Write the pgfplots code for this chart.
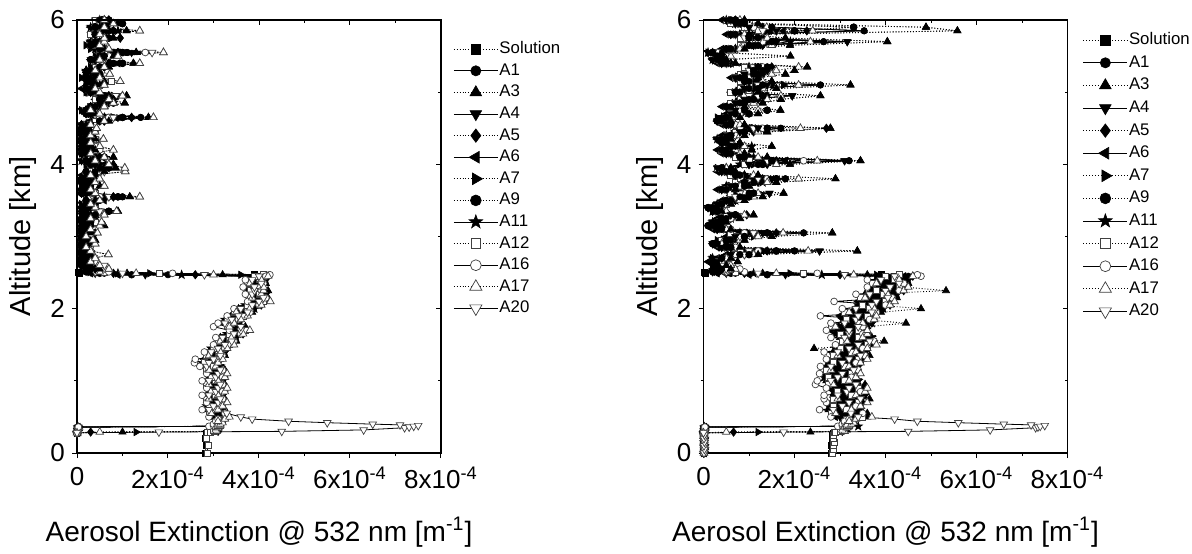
\documentclass[border=0pt]{standalone}
\usepackage{fontspec}
\setmainfont{Liberation Sans}
\usepackage{pgfplots}
\usepackage{pgfplotstable}
\pgfplotsset{compat=1.18}

% filled five-point star for A11
\pgfdeclareplotmark{fstar}{%
  \pgfpathmoveto{\pgfpointpolar{90}{1.25\pgfplotmarksize}}%
  \pgfpathlineto{\pgfpointpolar{126}{0.5\pgfplotmarksize}}%
  \pgfpathlineto{\pgfpointpolar{162}{1.25\pgfplotmarksize}}%
  \pgfpathlineto{\pgfpointpolar{198}{0.5\pgfplotmarksize}}%
  \pgfpathlineto{\pgfpointpolar{234}{1.25\pgfplotmarksize}}%
  \pgfpathlineto{\pgfpointpolar{270}{0.5\pgfplotmarksize}}%
  \pgfpathlineto{\pgfpointpolar{306}{1.25\pgfplotmarksize}}%
  \pgfpathlineto{\pgfpointpolar{342}{0.5\pgfplotmarksize}}%
  \pgfpathlineto{\pgfpointpolar{18}{1.25\pgfplotmarksize}}%
  \pgfpathlineto{\pgfpointpolar{54}{0.5\pgfplotmarksize}}%
  \pgfpathclose
  \pgfusepathqfillstroke
}

% extinction in units of 1e-4 m^-1, altitude in km
\pgfplotstableread{
y    S    A1   A3   A4   A5   A6   A7   A9   A11  A12  A16  A17  A20
0.00 2.82 nan  nan  nan  nan  nan  nan  nan  nan  2.86 nan  nan  nan
0.10 2.84 nan  nan  nan  nan  nan  nan  nan  nan  2.88 nan  nan  nan
0.20 2.83 nan  nan  nan  nan  nan  nan  nan  nan  2.85 nan  nan  nan
0.28 2.85 0    0    0    0    0    0    0    0    2.87 0    0    0
0.29 2.90 0.02 1.00 0.03 0.30 0.02 1.30 0.03 0.02 2.92 0.03 0.50 1.80
0.30 3.00 0.03 3.05 0.02 3.10 0.03 3.00 0.02 0.03 3.02 0.02 3.07 4.50
0.32 3.05 0.02 3.10 0.03 3.05 0.02 3.10 0.03 0.02 3.00 0.03 3.05 6.30
0.35 3.05 0.03 3.05 0.02 3.10 0.03 3.05 0.02 0.03 3.05 0.02 3.10 7.20
0.36 3.10 0.02 3.10 0.03 3.05 0.02 3.10 0.03 0.02 3.10 0.03 3.05 7.30
0.37 3.10 2.95 3.05 3.00 3.10 2.90 3.05 2.95 3.00 3.05 2.90 3.10 7.40
0.38 3.10 3.05 3.10 3.05 3.15 3.00 3.10 3.05 3.10 3.10 3.00 3.15 7.50
0.39 3.15 3.10 3.05 3.10 3.10 3.05 3.15 3.10 3.05 3.15 3.05 3.10 7.10
0.40 3.10 3.05 3.10 3.15 3.05 3.10 3.10 3.15 3.10 3.10 3.00 3.15 6.50
0.42 3.10 3.10 3.15 3.10 3.10 3.05 3.15 3.10 3.15 3.05 3.10 3.20 5.50
0.44 3.15 3.05 3.10 3.15 3.20 3.10 3.10 3.20 3.10 3.15 3.05 3.10 4.65
0.47 3.10 3.15 3.20 3.10 3.15 3.15 3.05 3.10 3.20 3.10 3.10 3.25 3.85
0.50 3.10 3.20 3.30 3.00 3.15 2.95 3.20 3.10 3.05 3.25 2.90 3.35 3.60
0.55 3.05 2.95 3.30 3.10 2.95 3.15 3.00 3.20 3.15 2.90 3.25 2.95 3.29
0.60 3.00 3.05 2.85 3.20 3.10 2.95 3.15 2.90 3.20 3.05 2.75 3.10 2.90
0.65 3.00 3.15 3.05 2.95 3.20 3.10 2.90 3.05 2.85 2.90 3.15 3.20 3.00
0.70 3.05 3.15 3.25 2.95 3.10 2.90 3.15 3.05 3.00 3.20 2.85 3.30 3.10
0.75 3.00 2.90 3.25 3.05 2.90 3.10 2.95 3.15 3.10 2.85 3.20 2.90 3.15
0.80 3.00 3.05 2.85 3.20 3.10 2.95 3.15 2.90 3.20 3.05 2.75 3.10 2.90
0.85 3.05 3.20 3.10 3.00 3.25 3.15 2.95 3.10 2.90 2.95 3.20 3.25 3.05
0.90 3.05 3.15 3.25 2.95 3.10 2.90 3.15 3.05 3.00 3.20 2.85 3.30 3.10
0.95 3.00 2.90 3.25 3.05 2.90 3.10 2.95 3.15 3.10 2.85 3.20 2.90 3.15
1.00 3.00 3.05 2.85 3.20 3.10 2.95 3.15 2.90 3.20 3.05 2.75 3.10 2.90
1.05 3.05 3.20 3.10 3.00 3.25 3.15 2.95 3.10 2.90 2.95 3.20 3.25 3.05
1.10 3.05 3.15 3.25 2.95 3.10 2.90 3.15 3.05 3.00 3.20 2.85 3.30 3.10
1.15 3.00 2.90 3.25 3.05 2.90 3.10 2.95 3.15 3.10 2.85 3.20 2.90 3.15
1.20 2.95 3.00 2.80 3.15 3.05 2.90 3.10 2.85 3.15 3.00 2.70 3.05 2.85
1.25 2.90 3.05 2.95 2.85 3.10 3.00 2.80 2.95 2.75 2.80 2.58 3.10 2.90
1.30 2.95 3.05 3.15 2.85 3.00 2.80 3.05 2.95 2.90 3.10 2.60 3.20 3.00
1.35 3.00 2.90 3.25 3.05 2.90 3.10 2.95 3.15 3.10 2.85 3.20 2.90 3.15
1.40 3.05 3.10 2.90 3.25 3.15 3.00 3.20 2.95 3.25 3.10 2.80 3.15 2.95
1.45 3.10 3.25 3.15 3.05 3.30 3.20 3.00 3.15 2.95 3.00 3.25 3.30 3.10
1.50 3.20 3.30 3.40 3.10 3.25 3.05 3.30 3.20 3.15 3.35 3.00 3.45 3.25
1.55 3.25 3.15 3.50 3.30 3.15 3.35 3.20 3.40 3.35 3.10 3.45 3.15 3.40
1.60 3.30 3.35 3.15 3.50 3.40 3.25 3.45 3.20 3.50 3.35 3.05 3.40 3.20
1.65 3.45 3.60 3.50 3.40 3.65 3.55 3.35 3.50 3.30 3.35 3.60 3.65 3.45
1.70 3.55 3.65 3.75 3.45 3.60 3.40 3.65 3.55 3.50 3.70 3.35 3.80 3.60
1.75 3.45 3.35 3.70 3.50 3.35 3.55 3.40 3.60 3.55 3.30 3.00 3.35 3.60
1.80 3.35 3.40 3.20 3.55 3.45 3.30 3.50 3.25 3.55 3.40 3.10 3.45 3.25
1.85 3.40 3.55 3.45 3.35 3.60 3.50 3.30 3.45 3.25 3.30 3.55 3.60 3.40
1.90 3.50 3.60 3.70 3.40 3.55 3.35 3.60 3.50 3.45 3.65 3.30 3.75 3.55
1.95 3.60 3.50 3.85 3.65 3.50 3.70 3.55 3.75 3.70 3.45 3.80 3.50 3.75
2.00 3.70 3.75 3.55 3.90 3.80 3.65 3.85 3.60 3.90 3.75 3.45 3.80 3.60
2.05 3.85 4.00 3.90 3.80 4.05 3.95 3.75 3.90 3.70 3.75 4.00 4.05 3.85
2.10 3.95 4.05 4.15 3.85 4.00 3.80 4.05 3.95 3.90 4.10 3.75 4.25 4.00
2.15 3.95 3.85 4.20 4.00 3.85 4.05 3.90 4.10 4.05 3.80 4.15 3.85 4.10
2.20 3.95 4.00 3.80 4.15 4.05 3.90 4.10 3.85 4.15 4.00 3.70 4.05 3.85
2.25 3.90 4.05 4.20 3.85 4.10 4.00 3.80 3.95 3.75 3.80 4.05 4.10 3.90
2.30 3.85 3.95 4.05 3.75 3.90 3.70 3.95 3.85 3.80 4.00 3.65 4.10 3.90
2.35 3.90 3.80 4.15 3.95 3.80 4.00 3.85 4.05 4.00 3.75 4.10 3.80 4.05
2.40 3.95 4.00 3.80 4.15 4.05 3.90 4.10 3.85 4.15 4.00 3.70 4.05 3.85
2.45 4.00 4.15 4.05 3.95 4.20 4.10 3.90 4.05 3.85 3.90 4.15 4.20 4.00
2.47 3.90 2.00 3.20 1.50 2.60 0.90 3.60 1.20 2.30 4.10 4.24 3.00 2.80
2.49 0.05 0.60 1.10 0.40 0.80 0.30 1.60 0.50 0.90 1.80 2.10 1.30 1.00
2.51 0.02 0.20 0.40 0.10 0.30 0.20 0.50 0.20 0.30 0.60 0.70 0.50 0.40
2.55 0.02 0.3 0.5 0.2 0.4 0.3 0.6 0.2 0.4 0.5 0.6 0.7 0.4
2.60 0.02 0.2 0.3 0.1 0.2 0.4 0.3 0.1 0.2 0.4 0.3 0.5 0.6
2.65 0.02 0.1 0.2 0.3 0.1 0.2 0.1 0.3 0.1 0.3 0.2 0.3 0.4
2.70 0.02 0.2 0.1 0.2 0.3 0.1 0.2 0.1 0.2 0.2 0.4 0.4 0.2
2.75 0.02 0.1 0.3 0.1 0.2 0.2 0.1 0.2 0.1 0.3 0.2 0.69 0.3
2.80 0.02 0.2 0.1 0.2 0.1 0.1 0.3 0.1 0.2 0.2 0.3 0.3 0.2
2.85 0.02 0.1 0.2 0.1 0.2 0.3 0.1 0.2 0.1 0.1 0.2 0.2 0.3
2.90 0.02 0.3 0.1 0.2 0.1 0.1 0.2 0.1 0.3 0.2 0.1 0.4 0.2
2.95 0.02 0.1 0.4 0.1 0.2 0.2 0.1 0.3 0.1 0.3 0.2 0.35 0.1
3.00 0.02 0.2 0.1 0.3 0.1 0.1 0.2 0.1 0.2 0.2 0.3 0.2 0.3
3.05 0.02 0.1 0.3 0.2 0.4 0.2 0.1 0.2 0.1 0.1 0.2 0.45 0.2
3.10 0.02 0.2 0.1 0.1 0.2 0.3 0.2 0.1 0.3 0.3 0.1 0.3 0.4
3.15 0.02 0.3 0.6 0.2 0.1 0.1 0.3 0.2 0.2 0.2 0.3 0.5 0.2
3.20 0.02 0.1 0.2 0.4 0.2 0.2 0.1 0.3 0.1 0.4 0.2 0.54 0.3
3.25 0.02 0.2 0.1 0.2 0.3 0.1 0.2 0.1 0.4 0.2 0.3 0.3 0.2
3.30 0.02 0.4 0.3 0.1 0.2 0.3 0.1 0.2 0.2 0.3 0.4 0.6 0.3
3.35 0.02 0.2 0.9 0.3 0.1 0.2 0.4 0.7 0.3 0.2 0.3 0.87 0.5
3.40 0.02 0.1 0.3 0.2 0.2 0.1 0.2 0.3 0.1 0.4 0.2 0.4 0.3
3.45 0.02 0.3 0.2 0.1 0.4 0.3 0.1 0.2 0.2 0.3 0.3 0.3 0.2
3.50 0.02 0.5 0.4 0.3 0.2 0.6 0.3 0.2 0.4 0.2 0.4 0.5 0.4
3.55 0.02 1.0 1.16 0.6 0.8 0.4 0.5 0.9 0.6 0.3 0.5 1.38 0.7
3.60 0.02 0.2 0.3 0.2 0.1 0.2 0.3 0.1 0.2 0.4 0.3 0.4 0.3
3.65 0.02 0.1 0.2 0.4 0.2 0.1 0.2 0.3 0.1 0.2 0.2 0.3 0.2
3.70 0.02 0.3 0.5 0.2 0.3 0.2 0.1 0.2 0.3 0.3 0.4 0.6 0.3
3.75 0.02 0.2 0.3 0.1 0.2 0.4 0.2 0.1 0.2 0.2 0.3 0.4 0.2
3.80 0.02 0.1 0.4 0.3 0.1 0.2 0.3 0.2 0.1 0.3 0.2 0.5 0.4
3.85 0.02 0.3 0.2 0.2 0.4 0.1 0.2 0.3 0.2 0.4 0.3 0.3 0.2
3.90 0.02 0.4 0.6 0.3 0.2 0.5 0.3 0.2 0.4 0.3 0.5 1.06 0.6
3.95 0.02 0.5 0.85 0.4 0.6 0.3 0.5 0.7 0.3 0.4 0.6 1.05 0.5
4.00 0.02 0.3 0.8 0.2 0.4 0.6 0.2 0.3 0.5 0.3 0.4 0.7 0.3
4.05 0.02 0.2 0.3 0.1 0.2 0.3 0.4 0.2 0.1 0.2 0.3 0.4 0.2
4.10 0.02 0.4 0.8 0.3 0.5 0.2 0.3 0.6 0.4 0.3 0.5 0.6 0.4
4.15 0.02 0.1 0.2 0.2 0.1 0.3 0.1 0.2 0.2 0.2 0.3 0.3 0.2
4.20 0.02 0.3 0.4 0.1 0.3 0.2 0.3 0.1 0.4 0.4 0.5 0.8 0.3
4.25 0.02 0.2 0.3 0.4 0.2 0.1 0.2 0.3 0.2 0.3 0.4 0.5 0.3
4.30 0.02 0.1 0.2 0.2 0.3 0.2 0.1 0.2 0.1 0.2 0.3 0.3 0.2
4.35 0.02 0.3 0.4 0.3 0.1 0.3 0.4 0.1 0.3 0.4 0.3 0.58 0.4
4.40 0.02 0.2 0.2 0.1 0.2 0.1 0.2 0.3 0.2 0.3 0.2 0.3 0.2
4.45 0.02 0.1 0.3 0.2 0.3 0.2 0.1 0.2 0.1 0.2 0.4 0.4 0.3
4.50 0.02 0.2 0.43 0.3 0.2 0.4 0.3 0.1 0.2 0.3 0.3 0.43 0.2
4.55 0.02 0.3 0.2 0.1 0.1 0.2 0.2 0.3 0.3 0.2 0.2 0.3 0.4
4.60 0.02 0.5 0.7 0.4 0.6 0.3 0.4 0.5 0.3 0.4 0.5 0.6 0.5
4.65 0.02 1.4 1.57 0.9 1.2 0.7 0.8 1.0 0.6 0.5 0.7 1.68 0.8
4.70 0.02 0.3 0.4 0.2 0.3 0.2 0.3 0.2 0.4 0.3 0.4 0.5 0.3
4.75 0.02 0.2 0.3 0.1 0.2 0.3 0.1 0.2 0.2 0.2 0.3 0.3 0.2
4.80 0.02 0.4 0.6 0.5 0.3 0.4 0.5 0.3 0.4 0.3 0.4 0.6 0.4
4.85 0.02 0.6 1.05 0.7 0.5 0.6 0.4 0.8 0.5 0.4 0.6 0.8 0.6
4.90 0.02 0.5 0.7 0.6 0.8 0.4 0.6 0.5 0.7 0.4 0.5 0.7 0.5
4.95 0.02 0.6 1.09 0.9 0.7 0.5 0.8 0.6 0.5 0.6 0.7 1.0 0.85
5.00 0.02 0.3 0.4 0.2 0.3 0.4 0.2 0.3 0.3 0.3 0.4 0.5 0.3
5.05 0.02 0.2 0.3 0.3 0.2 0.1 0.3 0.2 0.2 0.3 0.3 0.4 0.2
5.10 0.02 0.4 0.5 0.3 0.4 0.3 0.2 0.4 0.3 0.5 0.4 0.6 0.4
5.15 0.02 0.3 0.6 0.4 0.3 0.5 0.4 0.3 0.2 0.75 0.5 0.95 0.5
5.20 0.02 0.2 0.3 0.2 0.4 0.2 0.1 0.2 0.3 0.3 0.4 0.5 0.3
5.25 0.02 0.4 0.5 0.3 0.2 0.4 0.3 0.5 0.3 0.4 0.5 0.72 0.4
5.30 0.02 0.3 0.2 0.4 0.3 0.2 0.4 0.3 0.2 0.3 0.3 0.4 0.3
5.35 0.02 0.5 0.7 0.4 0.6 0.5 0.3 0.6 0.4 0.4 0.5 0.6 0.5
5.40 0.02 0.8 1.24 0.6 0.7 0.9 0.5 1.0 0.6 0.5 0.6 1.38 0.7
5.45 0.02 0.4 0.5 0.3 0.4 0.3 0.4 0.3 0.5 0.4 0.5 0.5 0.4
5.50 0.02 0.6 0.8 0.5 0.6 0.7 0.4 0.5 0.6 0.5 0.7 0.9 0.6
5.55 0.02 1.1 1.3 1.2 0.9 0.9 0.8 1.0 0.7 0.6 1.5 1.9 1.65
5.60 0.02 0.5 0.6 0.4 0.5 0.6 0.3 0.5 0.4 0.5 0.6 0.7 0.5
5.65 0.02 0.3 0.4 0.5 0.3 0.4 0.2 0.3 0.4 0.3 0.4 0.5 0.3
5.70 0.02 0.4 0.6 0.3 0.5 0.3 0.4 0.5 0.3 0.4 0.5 0.6 0.4
5.75 0.02 0.6 0.8 0.5 0.95 0.6 0.4 0.7 0.5 0.4 0.5 0.6 0.5
5.80 0.02 0.4 0.5 0.3 0.4 0.5 0.3 0.4 0.5 0.3 0.4 0.5 0.4
5.85 0.02 0.7 1.09 0.6 0.8 0.5 0.7 0.6 0.9 0.5 0.7 1.38 0.6
5.90 0.02 0.4 0.5 0.3 0.4 0.3 0.5 0.4 0.3 0.4 0.5 0.6 0.4
5.95 0.02 0.6 0.9 0.5 0.7 0.6 0.4 1.0 0.6 0.5 0.6 0.8 0.5
6.00 0.02 0.5 0.7 0.4 0.6 0.5 0.6 0.7 0.5 0.4 0.5 0.6 0.5
}\Ldata

\pgfplotstableread{
y    S    A1   A3   A4   A5   A6   A7   A9   A11  A12  A16  A17  A20
0.00 2.80 0.01 0.01 0.01 0.01 0.01 0.01 0.01 0.01 2.84 0.01 0.01 0.01
0.05 2.82 0.02 0.02 0.02 0.02 0.02 0.02 0.02 0.02 2.86 0.02 0.02 0.02
0.10 2.81 0.01 0.02 0.01 0.02 0.01 0.02 0.01 0.02 2.85 0.01 0.02 0.01
0.15 2.83 0.02 0.01 0.02 0.01 0.02 0.01 0.02 0.01 2.87 0.02 0.01 0.02
0.20 2.82 0.01 0.02 0.01 0.02 0.01 0.02 0.01 0.02 2.86 0.01 0.02 0.01
0.25 2.84 0.02 0.01 0.02 0.01 0.02 0.01 0.02 0.01 2.85 0.02 0.01 0.02
0.28 2.85 0    0    0    0    0    0    0    0    2.87 0    0    0
0.29 2.88 0.02 2.35 0.03 0.66 0.02 1.20 0.03 0.02 2.90 0.03 0.50 1.76
0.30 3.00 0.03 3.10 0.02 3.05 0.03 3.00 0.02 0.03 3.00 0.02 3.10 4.50
0.32 3.05 0.02 3.15 0.03 3.10 0.02 3.05 0.03 0.02 3.05 0.03 3.05 6.30
0.35 3.10 0.03 3.10 0.02 3.05 0.03 3.10 0.02 0.03 3.10 0.02 3.15 7.30
0.36 3.10 0.02 3.15 0.03 3.10 0.02 3.15 0.03 0.02 3.05 0.03 3.10 7.35
0.37 3.15 3.00 3.10 3.10 3.15 2.95 3.10 3.05 3.40 3.10 2.95 3.15 7.40
0.38 3.15 3.10 3.20 3.05 3.20 3.10 3.15 3.10 3.20 3.15 3.05 3.20 7.50
0.39 3.20 3.15 3.10 3.20 3.15 3.05 3.20 3.15 3.10 3.20 3.10 3.15 7.20
0.40 3.15 3.10 3.20 3.25 3.10 3.15 3.15 3.20 3.15 3.10 3.05 3.25 6.60
0.42 3.20 3.20 3.25 3.15 3.20 3.10 3.25 3.15 3.20 3.15 3.10 3.30 5.60
0.44 3.20 3.10 3.15 3.25 3.30 3.20 3.15 3.30 3.20 3.20 3.10 3.20 4.70
0.47 3.15 3.25 3.30 3.20 3.20 3.25 3.10 3.20 3.30 3.15 3.20 3.35 4.20
0.50 3.20 3.40 3.60 3.00 3.30 2.90 3.40 3.20 3.10 3.50 2.80 3.70 3.40
0.55 3.10 2.90 3.60 3.20 2.90 3.30 3.00 3.40 3.30 2.80 3.50 2.90 3.24
0.60 3.05 3.15 2.75 3.45 3.25 2.95 3.35 2.85 3.45 3.15 2.55 3.25 2.85
0.65 3.05 3.35 3.15 2.95 3.45 3.25 2.85 3.15 2.75 2.85 3.35 3.45 3.05
0.70 3.10 3.30 3.50 2.90 3.20 2.80 3.30 3.10 3.00 3.40 2.70 3.60 3.20
0.75 3.15 2.95 3.65 3.25 2.95 3.35 3.05 3.45 3.35 2.85 2.65 2.95 3.45
0.80 3.15 3.25 2.85 3.55 3.35 3.05 3.45 2.95 3.55 3.25 2.65 3.35 2.95
0.85 3.15 3.45 3.25 3.05 3.55 3.35 2.95 3.25 2.85 2.95 3.45 3.55 3.15
0.90 3.10 3.30 3.50 2.90 3.20 2.80 3.30 3.10 3.00 3.40 2.70 3.60 3.20
0.95 3.05 2.85 3.55 3.15 2.85 3.25 2.95 3.35 3.25 2.75 2.46 2.85 3.35
1.00 3.00 3.10 2.70 3.40 3.20 2.90 3.30 2.80 3.40 3.10 2.50 3.20 2.80
1.05 2.95 3.25 3.05 2.85 3.35 3.15 2.75 3.05 2.65 2.75 3.25 3.35 2.95
1.10 2.95 3.15 3.35 2.75 3.05 2.65 3.15 2.95 2.85 3.25 2.55 3.45 3.05
1.15 3.00 2.80 3.31 3.10 2.80 3.20 2.90 3.30 3.20 2.70 3.40 2.80 3.30
1.20 3.00 3.10 2.70 3.40 3.20 2.90 3.30 2.80 3.40 3.10 2.57 3.20 2.80
1.25 3.05 3.35 3.15 2.95 3.45 3.25 2.85 3.15 2.75 2.85 3.35 3.45 3.05
1.30 3.10 3.30 3.50 2.90 3.20 2.80 3.30 3.10 3.00 3.40 2.70 3.60 3.20
1.35 3.15 2.95 3.65 3.25 2.95 3.35 3.05 3.45 3.35 2.85 3.55 2.95 3.45
1.40 3.15 3.25 2.85 3.55 3.35 3.05 3.45 2.95 3.55 3.25 2.65 3.35 2.95
1.45 3.20 3.50 2.43 3.10 3.60 3.40 3.00 3.30 2.90 3.00 3.50 3.60 3.20
1.50 3.30 3.50 3.70 3.10 3.40 3.00 3.50 3.30 3.20 3.60 2.90 3.80 3.40
1.55 3.35 3.15 3.97 3.45 3.15 3.55 3.25 3.65 3.55 3.05 3.75 3.15 3.65
1.60 3.30 3.40 3.00 3.70 3.50 3.20 3.60 3.10 3.70 3.40 2.80 3.50 3.10
1.65 3.20 3.50 3.30 3.10 3.60 3.40 3.00 3.30 2.90 3.00 3.50 3.60 3.20
1.70 3.10 3.30 3.50 2.90 3.20 2.80 3.30 3.10 3.00 3.40 2.70 3.60 3.20
1.75 3.10 2.90 3.60 3.20 2.90 3.30 3.00 3.40 3.30 2.80 3.50 2.90 3.40
1.80 3.30 3.40 4.45 3.70 3.50 3.20 3.60 3.10 3.70 3.40 2.80 3.50 3.10
1.85 3.35 3.65 3.45 3.25 3.75 3.55 3.15 3.45 3.05 3.15 3.65 3.75 3.35
1.90 3.30 3.50 3.70 3.10 3.40 3.00 3.50 3.30 3.20 3.60 2.57 3.80 3.40
1.95 3.40 3.20 3.90 3.50 3.20 3.60 3.30 3.70 3.60 3.10 3.80 3.20 3.70
2.00 3.55 3.65 4.78 3.95 3.75 3.45 3.85 3.35 3.95 3.65 3.05 3.75 3.35
2.05 3.70 4.00 3.80 3.60 4.10 3.90 3.50 3.80 3.40 3.50 4.00 4.10 3.70
2.10 3.70 3.90 4.10 3.50 3.80 3.40 3.90 3.70 3.60 4.00 2.87 4.20 3.80
2.15 3.75 3.55 4.25 3.85 3.55 3.95 3.65 4.05 3.95 3.45 4.15 3.55 4.05
2.20 3.85 3.95 3.55 4.25 4.05 3.75 4.15 3.65 4.25 3.95 3.35 4.05 3.65
2.25 4.00 4.30 5.33 3.90 4.40 4.20 3.80 4.10 3.70 3.80 4.30 4.40 4.00
2.30 4.00 4.20 4.40 3.80 4.10 3.70 4.20 4.00 3.90 4.30 3.60 4.50 4.10
2.35 4.00 3.80 4.50 4.10 3.80 4.20 3.90 4.30 4.20 3.70 4.40 3.80 4.30
2.40 4.10 4.20 3.80 4.50 4.30 4.00 4.40 3.90 4.50 4.20 3.60 4.30 3.90
2.45 4.20 4.50 4.30 4.10 4.60 4.40 4.00 4.30 3.90 4.00 4.78 4.60 4.20
2.47 3.90 2.20 3.60 1.80 3.00 1.00 3.80 1.40 2.60 4.30 4.70 3.30 3.10
2.49 0.05 0.70 1.30 0.50 0.90 0.30 1.90 0.60 1.10 2.20 2.50 1.60 1.20
2.51 0.02 0.30 0.50 0.20 0.30 0.20 0.60 0.20 0.40 0.70 0.90 0.50 0.50
2.55 0.02 0.4 0.6 0.3 0.5 0.2 0.7 0.3 0.4 0.6 0.8 0.7 0.5
2.60 0.02 0.3 0.5 0.2 0.3 0.4 0.2 0.3 0.2 0.4 0.5 0.6 0.4
2.65 0.02 0.2 0.75 0.3 0.2 0.1 0.3 0.2 0.4 0.3 0.2 0.4 0.3
2.70 0.02 0.4 0.6 0.2 0.5 0.3 0.2 0.4 0.2 0.5 0.6 0.5 0.4
2.75 0.02 0.8 1.2 0.6 0.9 0.5 0.7 1.0 0.6 0.7 0.8 1.1 0.9
2.80 0.02 2.0 3.38 2.55 1.4 1.1 1.3 1.6 0.9 0.8 1.2 2.3 1.0
2.85 0.02 0.5 0.8 0.4 0.6 0.3 0.5 0.6 0.4 0.5 0.7 0.6 0.5
2.90 0.02 0.3 0.5 0.2 0.4 0.2 0.3 0.2 0.3 0.4 0.5 0.4 0.3
2.95 0.02 0.6 0.9 0.5 0.4 0.6 0.3 0.5 0.7 0.4 0.6 0.8 0.5
3.00 0.02 0.9 1.5 0.7 0.8 0.5 1.1 0.9 0.6 0.7 0.9 1.2 0.8
3.05 0.02 2.2 2.83 1.3 1.6 0.9 1.0 1.4 0.8 0.6 0.9 1.75 1.1
3.10 0.02 0.4 0.6 0.3 0.5 0.2 0.4 0.3 0.5 0.4 0.6 0.5 0.3
3.15 0.02 0.2 0.4 0.3 0.2 0.3 0.2 0.1 0.3 0.3 0.4 0.3 0.2
3.20 0.02 0.3 0.5 0.2 0.4 0.2 0.3 0.4 0.2 0.4 0.3 0.5 0.4
3.25 0.02 0.5 0.8 0.4 0.6 0.3 0.5 0.4 0.6 0.5 0.6 0.8 0.5
3.30 0.02 0.7 1.1 0.6 0.95 0.5 0.6 0.7 0.4 0.5 0.7 0.9 0.6
3.35 0.02 0.3 0.4 0.2 0.3 0.4 0.2 0.3 0.2 0.3 0.4 0.5 0.3
3.40 0.02 0.2 0.3 0.1 0.2 0.2 0.3 0.1 0.2 0.2 0.3 0.3 0.2
3.45 0.02 0.4 0.6 0.3 0.4 0.3 0.5 0.4 0.3 0.5 0.4 0.6 0.4
3.50 0.02 0.6 0.9 0.5 0.7 0.4 0.6 0.5 0.7 0.5 0.6 0.8 0.6
3.55 0.02 0.8 1.3 0.9 0.6 0.7 0.8 1.0 0.6 0.6 0.8 1.1 0.7
3.60 0.02 1.0 1.76 1.45 0.9 0.8 0.7 1.1 0.8 0.6 0.9 1.2 0.8
3.65 0.02 0.5 0.7 0.4 0.6 0.3 0.5 0.4 0.6 0.4 0.5 0.7 0.5
3.70 0.02 0.7 1.0 0.6 0.8 0.5 0.6 0.9 0.5 0.6 0.8 1.0 0.7
3.75 0.02 1.1 1.6 0.9 1.2 0.8 1.0 0.9 1.3 0.7 1.0 1.4 0.9
3.80 0.02 1.8 2.9 1.5 1.3 1.1 1.2 1.6 1.0 0.8 1.4 2.09 1.2
3.85 0.02 0.8 1.2 0.7 0.9 0.6 0.8 0.7 0.9 0.6 0.8 1.1 0.7
3.90 0.02 0.5 0.7 0.4 0.6 0.3 0.5 0.6 0.4 0.5 0.6 0.7 0.5
3.95 0.02 0.4 0.6 0.3 0.5 0.4 0.3 0.4 0.5 0.3 0.4 0.5 0.4
4.00 0.02 1.2 1.9 1.0 1.4 0.9 1.1 1.3 0.8 0.9 1.2 1.6 1.0
4.05 0.02 3.2 3.45 3.1 1.6 1.8 1.3 1.5 1.2 1.0 2.2 2.5 1.4
4.10 0.02 0.9 1.4 0.8 1.0 0.7 0.9 0.8 1.1 0.7 0.9 1.2 0.8
4.15 0.02 0.6 0.9 0.5 0.7 0.4 0.6 0.5 0.7 0.5 0.6 0.8 0.6
4.20 0.02 0.5 1.06 0.4 0.6 0.3 0.5 0.4 0.6 0.4 0.5 0.7 0.5
4.25 0.02 0.7 1.5 0.6 0.8 0.5 0.7 0.6 1.06 0.5 0.7 0.9 0.6
4.30 0.02 0.5 0.8 0.4 0.6 0.4 0.5 0.4 0.5 0.5 0.6 0.6 0.5
4.35 0.02 0.4 0.6 0.3 0.5 0.3 0.4 0.5 0.3 0.4 0.5 0.6 0.4
4.40 0.02 0.6 0.9 0.5 0.7 0.4 0.5 0.6 0.5 0.5 0.7 0.8 0.6
4.45 0.02 0.9 1.4 0.8 1.1 0.7 0.8 0.9 0.7 0.7 0.9 1.2 0.8
4.50 0.02 1.7 2.79 1.2 2.7 1.0 1.1 1.4 0.9 0.8 1.3 2.13 1.1
4.55 0.02 0.6 0.9 0.5 0.7 0.4 0.6 0.5 0.6 0.5 0.7 0.8 0.6
4.60 0.02 0.4 0.6 0.3 0.5 0.3 0.4 0.3 0.5 0.4 0.5 0.6 0.4
4.65 0.02 0.5 0.8 0.4 0.6 0.5 0.3 0.5 0.4 0.5 0.6 0.7 0.5
4.70 0.02 0.7 1.2 0.6 0.8 0.5 0.7 1.0 0.6 0.6 0.8 1.0 0.7
4.75 0.02 0.9 1.69 0.7 0.9 0.6 0.8 1.4 0.7 0.7 0.9 1.2 0.8
4.80 0.02 0.6 0.9 0.5 0.7 0.4 0.6 0.5 0.6 0.5 0.7 0.8 0.6
4.85 0.02 0.8 1.3 0.7 0.9 0.6 0.8 0.9 0.7 0.6 0.8 1.1 0.7
4.90 0.02 1.0 1.7 0.9 1.2 0.8 0.9 1.1 0.8 0.8 1.0 1.4 0.9
4.95 0.02 1.3 2.57 1.95 1.4 1.0 1.2 1.3 1.1 0.9 1.2 1.7 1.0
5.00 0.02 0.8 1.2 0.7 0.9 0.6 0.8 0.7 0.9 0.6 0.8 1.0 0.7
5.05 0.02 1.0 1.6 0.9 1.1 0.8 1.0 1.2 0.8 0.8 1.0 1.3 0.9
5.10 0.02 2.57 3.23 1.4 1.5 1.1 1.76 1.3 1.2 1.0 1.4 2.09 1.2
5.15 0.02 1.0 1.5 0.9 1.2 0.8 1.0 0.9 1.1 0.8 1.0 1.3 0.9
5.20 0.02 0.8 1.2 0.7 0.9 0.6 0.8 0.9 0.7 0.7 0.8 1.0 0.7
5.25 0.02 1.1 1.8 0.9 1.3 0.8 1.0 1.2 0.9 0.8 1.1 1.5 0.9
5.30 0.02 1.3 2.0 1.1 1.4 1.0 1.2 1.1 1.3 0.9 1.2 1.6 1.0
5.35 0.02 1.4 2.28 1.2 1.5 1.1 1.3 1.2 1.0 0.9 1.3 2.09 1.1
5.40 0.02 0.5 0.7 0.4 0.6 0.3 0.5 0.4 0.6 0.4 0.5 0.7 0.5
5.45 0.02 0.3 0.5 0.2 0.4 0.2 0.3 0.4 0.2 0.3 0.4 0.5 0.3
5.50 0.02 0.4 1.91 0.3 0.5 0.3 0.4 0.3 0.5 0.4 0.5 0.6 0.4
5.55 0.02 0.2 0.4 0.1 0.2 0.3 0.1 0.2 0.1 0.3 0.3 0.4 0.2
5.60 0.02 0.6 0.9 0.5 0.7 0.4 0.6 0.5 0.7 0.5 0.6 0.8 0.6
5.65 0.02 1.2 1.9 1.1 1.3 0.9 1.1 1.0 1.2 0.8 1.0 1.5 0.9
5.70 0.02 2.64 4.04 3.16 1.6 1.3 1.4 1.5 1.91 1.0 1.3 2.35 1.2
5.75 0.02 1.2 1.8 1.0 1.3 0.9 1.1 1.0 1.2 0.8 1.0 1.4 0.9
5.80 0.02 0.7 1.0 0.6 0.8 0.5 0.7 0.6 0.8 0.6 0.7 0.9 0.7
5.85 0.02 3.53 5.58 1.6 2.27 1.76 1.5 2.0 1.4 1.2 1.6 2.4 1.3
5.90 0.02 1.5 4.89 1.0 1.3 0.9 1.1 3.3 1.0 0.9 1.1 1.39 1.0
5.95 0.02 0.8 1.2 0.7 0.9 0.6 0.8 0.9 0.7 0.6 0.8 1.0 0.7
6.00 0.02 0.6 0.9 0.5 0.7 0.4 0.6 0.7 0.5 0.5 0.6 0.8 0.6
}\Rdata

\pgfplotsset{
  profile axis/.style={
      scale only axis,
      width=182pt,
      height=216.5pt,
      xmin=0, xmax=8,
      ymin=0, ymax=6,
      xtick={0,2,4,6,8},
      xticklabels={0,2x10\textsuperscript{-4},4x10\textsuperscript{-4},6x10\textsuperscript{-4},8x10\textsuperscript{-4}},
      minor xtick={1,3,5,7},
      ytick={0,2,4,6},
      yticklabels={0,2,4,6},
      minor ytick={1,3,5},
      xtick pos=left,
      ytick pos=left,
      tick align=outside,
      major tick length=2.5pt,
      minor tick length=1.5pt,
      tick style={line width=0.5pt, black},
      axis line style={line width=0.6pt},
      xticklabel style={font=\fontsize{13}{14}\selectfont, yshift=-1pt},
      yticklabel style={font=\fontsize{13}{14}\selectfont},
      xlabel={Aerosol Extinction @ 532 nm [m\textsuperscript{-1}]},
      ylabel={Altitude [km]},
      xlabel style={font=\fontsize{14}{16}\selectfont, at={(axis description cs:0.5,-0.183)}, anchor=center},
      ylabel style={font=\fontsize{14.5}{16}\selectfont, at={(axis description cs:-0.148,0.5)}, anchor=center},
      legend entries={Solution,A1,A3,A4,A5,A6,A7,A9,A11,A12,A16,A17,A20},
      legend cell align=left,
      legend image code/.code={
          \draw[mark repeat=2,mark phase=2,#1,/tikz/every mark/.append style={scale=1.6}]
            plot coordinates {(0pt,0pt) (11pt,0pt) (22pt,0pt)};
        },
      legend style={
          draw=none, fill=none,
          anchor=north west,
          font=\fontsize{8.4}{9}\selectfont,
          inner sep=0pt,
          nodes={inner sep=0.6pt, text height=6pt, text depth=1.6pt},
        },
    },
  top ticks/.style={
      scale only axis,
      width=182pt,
      height=216.5pt,
      xmin=0, xmax=8,
      ymin=0, ymax=6,
      axis x line*=top,
      axis y line*=right,
      xtick={0,2,4,6,8},
      minor xtick={1,3,5,7},
      ytick={0,2,4,6},
      minor ytick={1,3,5},
      xticklabels={},
      yticklabels={},
      tick align=inside,
      major tick length=2.5pt,
      minor tick length=1.5pt,
      tick style={line width=0.5pt, black},
      axis line style={line width=0.6pt},
    },
  sol/.style={black, densely dotted, line width=0.45pt, mark=square*, mark size=1.5pt,
      restrict y to domain=0:2.52,
      mark options={solid, fill=black, draw=black, line width=0.3pt}},
  sa1/.style={black, solid, line width=0.4pt, mark=*, mark size=1.6pt,
      mark options={solid, fill=black, draw=black, line width=0.3pt}},
  sa3/.style={black, densely dotted, line width=0.45pt, mark=triangle*, mark size=2.1pt,
      mark options={solid, fill=black, draw=black, line width=0.3pt}},
  sa4/.style={black, solid, line width=0.4pt, mark=triangle*, mark size=2.1pt,
      mark options={solid, fill=black, draw=black, line width=0.3pt, rotate=180}},
  sa5/.style={black, densely dotted, line width=0.45pt, mark=diamond*, mark size=2.1pt,
      mark options={solid, fill=black, draw=black, line width=0.3pt}},
  sa6/.style={black, solid, line width=0.4pt, mark=triangle*, mark size=2.1pt,
      mark options={solid, fill=black, draw=black, line width=0.3pt, rotate=90}},
  sa7/.style={black, densely dotted, line width=0.45pt, mark=triangle*, mark size=2.1pt,
      mark options={solid, fill=black, draw=black, line width=0.3pt, rotate=-90}},
  sa9/.style={black, densely dotted, line width=0.45pt, mark=*, mark size=1.7pt,
      mark options={solid, fill=black, draw=black, line width=0.3pt}},
  sa11/.style={black, solid, line width=0.4pt, mark=fstar, mark size=1.8pt,
      mark options={solid, fill=black, draw=black, line width=0.3pt}},
  sa12/.style={black, densely dotted, line width=0.45pt, mark=square*, mark size=1.5pt,
      mark options={solid, fill=white, draw=black!75, line width=0.35pt}},
  sa16/.style={black, solid, line width=0.4pt, mark=*, mark size=1.7pt,
      mark options={solid, fill=white, draw=black!75, line width=0.35pt}},
  sa17/.style={black, densely dotted, line width=0.45pt, mark=triangle*, mark size=2.2pt,
      mark options={solid, fill=white, draw=black!75, line width=0.35pt}},
  sa20/.style={black, solid, line width=0.4pt, mark=triangle*, mark size=2.2pt,
      mark options={solid, fill=white, draw=black!75, line width=0.35pt, rotate=180}},
  upper/.style={forget plot, restrict y to domain=2.53:6.1},
}

\begin{document}
\begin{tikzpicture}
  \useasboundingbox (0pt,0pt) rectangle (596pt,276.5pt);

  % ---------------- left panel ----------------
  \begin{axis}[
      profile axis,
      at={(38.5pt,50pt)}, anchor=south west,
      legend style={at={(axis description cs:1,1)}, xshift=6pt, yshift=-10pt, row sep=2pt},
    ]
    \addplot[sol]  table[x=S,   y=y] {\Ldata};
    \addplot[sa1]  table[x=A1,  y=y] {\Ldata};
    \addplot[sa3]  table[x=A3,  y=y] {\Ldata};
    \addplot[sa4]  table[x=A4,  y=y] {\Ldata};
    \addplot[sa5]  table[x=A5,  y=y] {\Ldata};
    \addplot[sa6]  table[x=A6,  y=y] {\Ldata};
    \addplot[sa7]  table[x=A7,  y=y] {\Ldata};
    \addplot[sa9]  table[x=A9,  y=y] {\Ldata};
    \addplot[sa11] table[x=A11, y=y] {\Ldata};
    \addplot[sa12] table[x=A12, y=y] {\Ldata};
    \addplot[sa16] table[x=A16, y=y] {\Ldata};
    \addplot[sa17] table[x=A17, y=y] {\Ldata};
    \addplot[sa20] table[x=A20, y=y] {\Ldata};
    % filled markers lie on top of the open ones above 2.5 km
    \addplot[sa1, upper]  table[x=A1,  y=y] {\Ldata};
    \addplot[sa3, upper]  table[x=A3,  y=y] {\Ldata};
    \addplot[sa5, upper]  table[x=A5,  y=y] {\Ldata};
    \addplot[sa9, upper]  table[x=A9,  y=y] {\Ldata};
    \addplot[sa17, upper] table[x=A17, y=y] {\Ldata};
  \end{axis}
  \begin{axis}[top ticks, at={(38.5pt,50pt)}, anchor=south west]
  \end{axis}

  % ---------------- right panel ----------------
  \begin{axis}[
      profile axis,
      at={(351.75pt,50pt)}, anchor=south west,
      legend style={at={(axis description cs:1,1)}, xshift=7.5pt, yshift=-5.5pt, row sep=2.5pt},
    ]
    \addplot[sol]  table[x=S,   y=y] {\Rdata};
    \addplot[sa1]  table[x=A1,  y=y] {\Rdata};
    \addplot[sa3]  table[x=A3,  y=y] {\Rdata};
    \addplot[sa4]  table[x=A4,  y=y] {\Rdata};
    \addplot[sa5]  table[x=A5,  y=y] {\Rdata};
    \addplot[sa6]  table[x=A6,  y=y] {\Rdata};
    \addplot[sa7]  table[x=A7,  y=y] {\Rdata};
    \addplot[sa9]  table[x=A9,  y=y] {\Rdata};
    \addplot[sa11] table[x=A11, y=y] {\Rdata};
    \addplot[sa12] table[x=A12, y=y] {\Rdata};
    \addplot[sa16] table[x=A16, y=y] {\Rdata};
    \addplot[sa17] table[x=A17, y=y] {\Rdata};
    \addplot[sa20] table[x=A20, y=y] {\Rdata};
    % filled markers lie on top of the open ones above 2.5 km
    \addplot[sa1, upper]  table[x=A1,  y=y] {\Rdata};
    \addplot[sa3, upper]  table[x=A3,  y=y] {\Rdata};
    \addplot[sa4, upper]  table[x=A4,  y=y] {\Rdata};
    \addplot[sa9, upper]  table[x=A9,  y=y] {\Rdata};
  \end{axis}
  \begin{axis}[top ticks, at={(351.75pt,50pt)}, anchor=south west]
  \end{axis}
\end{tikzpicture}
\end{document}
